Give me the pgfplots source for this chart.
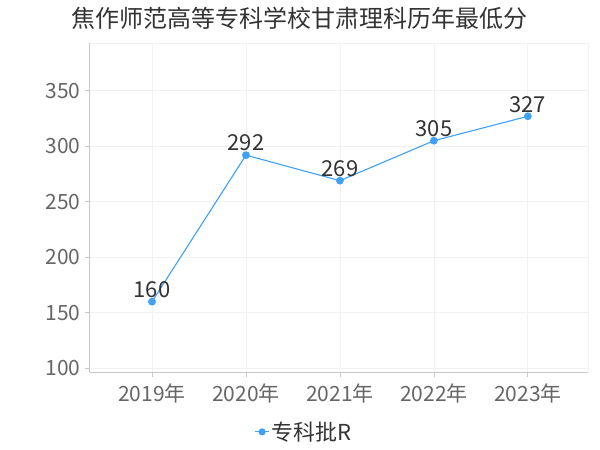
\documentclass[border=0pt]{standalone}
\usepackage{fontspec}
\setmainfont{Noto Sans CJK SC}
\usepackage{pgfplots}
\pgfplotsset{compat=1.18}

\definecolor{serie}{RGB}{62,160,246}
\definecolor{ticktext}{RGB}{102,102,102}
\definecolor{axisgray}{RGB}{200,200,200}
\definecolor{gridgray}{RGB}{242,242,242}
\definecolor{darktext}{RGB}{51,51,51}

\begin{document}
\begin{tikzpicture}
\useasboundingbox (-90pt,-78pt) rectangle (510pt,372pt);
\begin{axis}[
  at={(0pt,0pt)}, anchor=south west,
  scale only axis,
  width=498pt, height=329pt,
  xmin=-0.66, xmax=4.64,
  ymin=96.7, ymax=393,
  axis x line*=bottom,
  axis y line*=left,
  axis line style={draw=axisgray, line width=1pt, -},
  xtick={0,1,2,3,4},
  xticklabels={2019年,2020年,2021年,2022年,2023年},
  ytick={100,150,200,250,300,350},
  extra y ticks={393}, extra y tick labels={},
  extra y tick style={major tick length=0pt},
  extra x ticks={4.64}, extra x tick labels={},
  extra x tick style={major tick length=0pt},
  tick style={draw=axisgray, line width=0.8pt},
  major tick length=5pt,
  tick align=outside,
  grid=major,
  major grid style={draw=gridgray, line width=0.8pt},
  ticklabel style={font=\fontsize{21}{24}\selectfont, text=ticktext},
  /pgf/number format/assume math mode=true,
  xticklabel style={yshift=-3pt},
  yticklabel style={xshift=-1pt},
  legend style={
    at={(axis description cs:0.43,-0.182)}, anchor=center,
    draw=none, fill=none,
    font=\fontsize{22}{26}\selectfont, text=darktext,
    legend cell align=left,
  },
  legend image code/.code={
    \draw[#1, mark=none] (0pt,0pt) -- (14pt,0pt);
    \fill[serie] (7pt,0pt) circle (3pt);
  },
  clip=false,
]
\addplot[
  color=serie, line width=1.1pt,
  mark=*, mark size=3.3pt, mark options={fill=serie, draw=serie},
  nodes near coords,
  nodes near coords style={font=\fontsize{22}{25}\selectfont, text=darktext, anchor=south, yshift=0pt},
  point meta=explicit symbolic,
] coordinates {
  (0,160) [160]
  (1,292) [292]
  (2,269) [269]
  (3,305) [305]
  (4,327) [327]
};
\addlegendentry{专科批R}
\end{axis}
\node[font=\fontsize{24}{28}\selectfont, text=darktext] at (210pt,354pt) {焦作师范高等专科学校甘肃理科历年最低分};
\end{tikzpicture}
\end{document}
